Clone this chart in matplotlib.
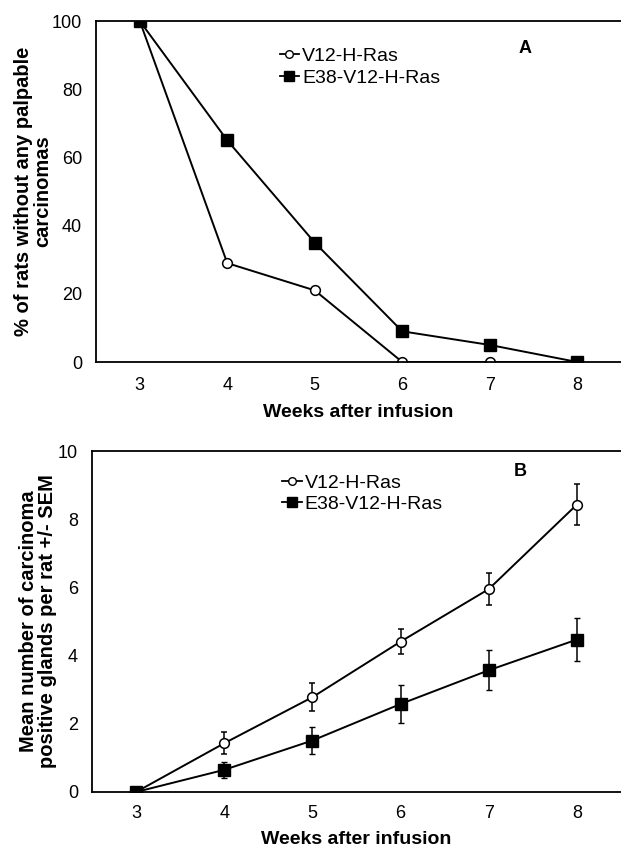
import numpy as np
import matplotlib
matplotlib.use("Agg")
import matplotlib.pyplot as plt
from matplotlib.lines import Line2D

plt.rcParams['font.family'] = ['Liberation Sans', 'DejaVu Sans']

#%% data
weeks = [3, 4, 5, 6, 7, 8]

# panel A: % of rats without palpable carcinomas
a_v12 = [100, 29, 21, 0, 0, 0]
a_e38 = [100, 65, 35, 9, 5, 0]

# panel B: mean number of carcinoma positive glands +/- SEM
b_v12 = [0, 1.43, 2.78, 4.41, 5.95, 8.43]
b_v12_err = [0, 0.33, 0.41, 0.37, 0.48, 0.6]
b_e38 = [0, 0.65, 1.51, 2.58, 3.57, 4.47]
b_e38_err = [0, 0.24, 0.39, 0.55, 0.59, 0.62]

labels = ['V12-H-Ras', 'E38-V12-H-Ras']

#%% figure
fig = plt.figure(figsize=(6.21, 8.51), dpi=100)
axA = fig.add_axes([96/621, 1-362/851, 1-96/621, (362-21)/851])
axB = fig.add_axes([92/621, 1-792/851, 1-92/621, (792-451)/851])

circ = dict(marker='o', mfc='white', mec='black', ms=7, mew=1.1)
sq = dict(marker='s', mfc='black', mec='black', ms=8)

axA.plot(weeks, a_v12, color='black', lw=1.4, **circ)
axA.plot(weeks, a_e38, color='black', lw=1.4, **sq)
axA.set_ylim(0, 100)
axA.set_yticks([0, 20, 40, 60, 80, 100])
axA.set_ylabel('% of rats without any palpable\ncarcinomas', fontsize=14.5,
               fontweight='bold', labelpad=0, linespacing=1.0)
axA.text(0.817, 0.92, 'A', transform=axA.transAxes, fontsize=13,
         fontweight='bold', ha='center', va='center')

axB.errorbar(weeks, b_v12, yerr=b_v12_err, color='black', lw=1.4,
             capsize=2.5, elinewidth=1.1, **circ)
axB.errorbar(weeks, b_e38, yerr=b_e38_err, color='black', lw=1.4,
             capsize=2.5, elinewidth=1.1, **sq)
axB.set_ylim(0, 10)
axB.set_yticks([0, 2, 4, 6, 8, 10])
axB.set_ylabel('Mean number of carcinoma\npositive glands per rat +/- SEM',
               fontsize=14.5, fontweight='bold', labelpad=1, linespacing=1.0)
axB.text(0.81, 0.94, 'B', transform=axB.transAxes, fontsize=13,
         fontweight='bold', ha='center', va='center')

# legend handles without error bars, small markers
handles = [Line2D([], [], color='black', lw=1.3, marker='o', mfc='white',
                  mec='black', ms=5.5, mew=1.0),
           Line2D([], [], color='black', lw=1.3, marker='s', mfc='black',
                  mec='black', ms=6.5)]

for ax, lx, ly, pad in ((axA, 0.335, 0.945, 11), (axB, 0.345, 0.955, 9)):
    ax.set_xlim(2.5, 8.5)
    ax.set_xticks(weeks)
    ax.set_xlabel('Weeks after infusion', fontsize=14, fontweight='bold',
                  labelpad=7)
    ax.tick_params(length=0, labelsize=13, pad=pad)
    ax.tick_params(axis='y', pad=10)
    ax.spines['right'].set_visible(False)
    for s in ('left', 'top', 'bottom'):
        ax.spines[s].set_linewidth(1.3)
    ax.legend(handles, labels, loc='upper left', bbox_to_anchor=(lx, ly),
              frameon=False, fontsize=14, handlelength=1.0,
              handletextpad=0.15, labelspacing=0.2, borderaxespad=0)

plt.savefig('out.png', dpi=100)
